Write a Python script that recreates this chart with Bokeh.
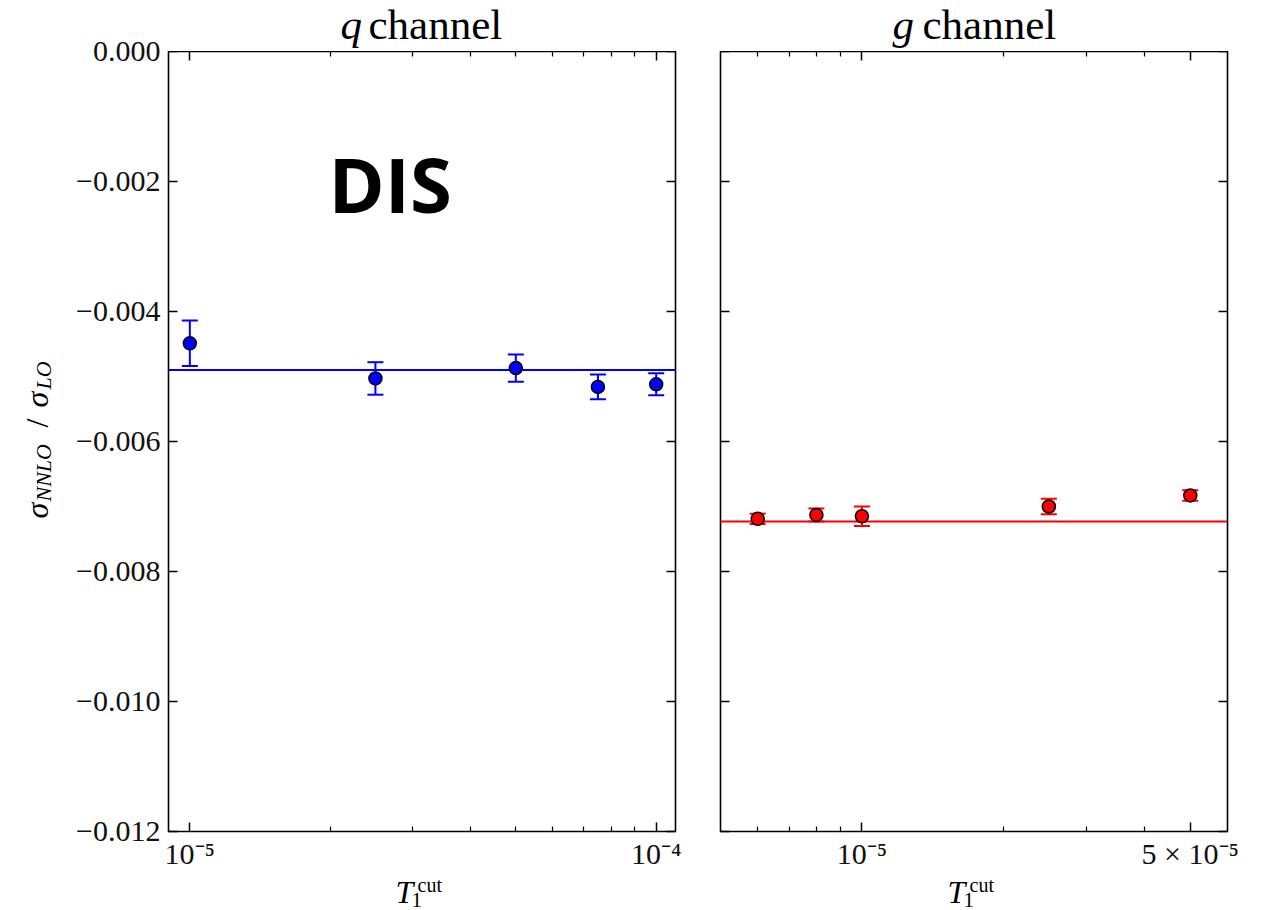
import math

from bokeh.embed import file_html
from bokeh.layouts import column, row
from bokeh.models import (ColumnDataSource, CustomJSTickFormatter, FixedTicker, Label,
                          LinearAxis, LogAxis, Range1d, Span, TeeHead, Whisker)
from bokeh.plotting import figure
from bokeh.resources import INLINE

# ---- quark channel: NNLO/LO ratio vs. tau_1 cut ----
q_tau = [1e-5, 2.5e-5, 5e-5, 7.5e-5, 1e-4]
q_ratio = [-0.00449, -0.00503, -0.00487, -0.00516, -0.00512]
q_err = [0.00035, 0.00025, 0.00021, 0.00019, 0.00017]
q_fit = -0.00490

# ---- gluon channel ----
g_tau = [6e-6, 8e-6, 1e-5, 2.5e-5, 5e-5]
g_ratio = [-0.00719, -0.00713, -0.00715, -0.00700, -0.00683]
g_err = [0.00008, 0.00010, 0.00015, 0.00012, 0.00008]
g_fit = -0.00723

# ---- axes ----
y_lim = [-0.012, 0.0]
y_ticks = [0.0, -0.002, -0.004, -0.006, -0.008, -0.010, -0.012]
y_tick_labels = ["0.000", "\u22120.002", "\u22120.004", "\u22120.006",
                 "\u22120.008", "\u22120.010", "\u22120.012"]
q_xlim = [9e-6, 1.1e-4]
q_xticks = [1e-5, 1e-4]
q_xtick_labels = ["10\u207b\u2075", "10\u207b\u2074"]
q_xminor = [2e-5, 3e-5, 4e-5, 5e-5, 6e-5, 7e-5, 8e-5, 9e-5]
g_xlim = [5e-6, 6e-5]
g_xticks = [1e-5, 5e-5]
g_xtick_labels = ["10\u207b\u2075", "5 \u00d7 10\u207b\u2075"]
g_xminor = [6e-6, 7e-6, 8e-6, 9e-6, 2e-5, 3e-5, 4e-5]

SERIF = "Liberation Serif"
MID = 0.338          # baseline -> middle of the text box, in em (Liberation Serif)
FRAME_W, FRAME_H = 507, 780
TOP, BOTTOM = 51, 79  # space above / below the data frames
TICKLAB_H = 39        # band under each frame that holds the x tick labels
YLAB_W, YTICK_W = 60, 103
P1_L, P1_R, P2_L, P2_R = 5, 20, 25, 45


def list_formatter(vals, texts):
    return CustomJSTickFormatter(args=dict(tick_vals=vals, tick_text=texts), code="""
        for (let i = 0; i < tick_vals.length; i++) {
            if (Math.abs(tick - tick_vals[i]) <= 1e-9 * Math.abs(tick_vals[i])) return tick_text[i];
        }
        return "";
    """)


def style_axis(ax, show_labels, minor, ticks=True):
    ax.axis_line_color = None
    ax.major_tick_in = 9 if ticks else 0
    ax.major_tick_out = 0
    ax.major_tick_line_color = "black" if ticks else None
    ax.major_tick_line_width = 1.5
    if minor:
        ax.minor_tick_in = 5
        ax.minor_tick_out = 0
        ax.minor_tick_line_color = "black"
        ax.minor_tick_line_width = 1.2
    else:
        ax.minor_tick_line_color = None
    ax.major_label_text_font = SERIF
    ax.major_label_text_color = "#111111"
    if show_labels:
        ax.major_label_text_font_size = "30px"
        ax.major_label_standoff = 5
    else:
        ax.formatter = CustomJSTickFormatter(code="return '';")
        ax.major_label_text_font_size = "0px"
        ax.major_label_standoff = 0


def put_text(p, x, y_base, text, size, style="normal", angle=0.0, font=SERIF, mid=MID):
    """Place text so that its baseline sits at (x, y_base), in screen px from the
    frame's bottom-left corner (for rotated text, x is the baseline position)."""
    if angle:
        x_anchor, y_anchor = x - mid * size, y_base
    else:
        x_anchor, y_anchor = x, y_base + mid * size
    p.add_layout(Label(x=x_anchor, y=y_anchor, x_units="screen", y_units="screen",
                       text=text, text_font=font, text_font_size=f"{size}px",
                       text_font_style=style, text_color="black", text_align="left",
                       text_baseline="middle", angle=angle))


def bare(p):
    p.outline_line_color = None
    p.xgrid.visible = False
    p.ygrid.visible = False
    p.background_fill_color = "white"
    p.border_fill_color = "white"
    return p


def text_strip(frame_w, frame_h, left=0, right=0, top=0, bottom=0):
    s = figure(frame_width=frame_w, frame_height=frame_h,
               x_range=Range1d(0, frame_w), y_range=Range1d(0, frame_h),
               output_backend="svg", toolbar_location=None,
               min_border_left=left, min_border_right=right,
               min_border_top=top, min_border_bottom=bottom,
               x_axis_location=None, y_axis_location=None)
    return bare(s)


def make_panel(tau, ratio, err, fit, color, xlim, xticks, xlabels, xminor,
               border_left, border_right):
    p = figure(frame_width=FRAME_W, frame_height=FRAME_H, x_axis_type="log",
               x_range=Range1d(*xlim), y_range=Range1d(*y_lim),
               output_backend="svg", toolbar_location=None,
               min_border_left=border_left, min_border_right=border_right,
               min_border_top=0, min_border_bottom=TICKLAB_H)
    p.background_fill_color = "white"
    p.border_fill_color = "white"
    p.outline_line_color = "black"
    p.outline_line_width = 1.6
    p.xgrid.grid_line_color = None
    p.ygrid.grid_line_color = None

    xticker = FixedTicker(ticks=xticks, minor_ticks=xminor)
    yticker = FixedTicker(ticks=y_ticks)

    xb = p.xaxis[0]
    xb.ticker = xticker
    xb.formatter = list_formatter(xticks, xlabels)
    style_axis(xb, True, True)

    yl = p.yaxis[0]
    yl.ticker = yticker
    style_axis(yl, False, False)

    xt = LogAxis(ticker=xticker)
    style_axis(xt, False, True)
    p.add_layout(xt, "above")
    yr = LinearAxis(ticker=yticker)
    style_axis(yr, False, False)
    p.add_layout(yr, "right")

    lower = [r - e for r, e in zip(ratio, err)]
    upper = [r + e for r, e in zip(ratio, err)]
    src = ColumnDataSource(data=dict(tau=tau, ratio=ratio, lower=lower, upper=upper))

    p.add_layout(Span(location=fit, dimension="width", line_color=color,
                      line_width=2, level="underlay"))
    whisk = Whisker(base="tau", lower="lower", upper="upper", source=src,
                    dimension="height", line_color=color, line_width=2,
                    level="underlay",
                    upper_head=TeeHead(size=16, line_color=color, line_width=2),
                    lower_head=TeeHead(size=16, line_color=color, line_width=2))
    p.add_layout(whisk)
    p.scatter("tau", "ratio", source=src, size=13, marker="circle",
              fill_color=color, line_color="black", line_width=1.5)
    return p


p1 = make_panel(q_tau, q_ratio, q_err, q_fit, "#0000ff", q_xlim, q_xticks,
                q_xtick_labels, q_xminor, P1_L, P1_R)
p2 = make_panel(g_tau, g_ratio, g_err, g_fit, "#ff0000", g_xlim, g_xticks,
                g_xtick_labels, g_xminor, P2_L, P2_R)

# process tag inside the quark panel
put_text(p1, 160, 619, "DIS", 76, "bold", font="Open Sans", mid=0.388)

# shared y tick labels, to the left of the quark panel
ytick = figure(frame_width=1, frame_height=FRAME_H, x_range=Range1d(0, 1),
               y_range=Range1d(*y_lim), output_backend="svg", toolbar_location=None,
               min_border_left=YTICK_W - 1, min_border_right=0,
               min_border_top=TOP, min_border_bottom=BOTTOM, x_axis_location=None)
bare(ytick)
ya = ytick.yaxis[0]
ya.ticker = FixedTicker(ticks=y_ticks)
ya.formatter = list_formatter(y_ticks, y_tick_labels)
style_axis(ya, True, False, ticks=False)
ya.major_label_standoff = 2

# y-axis title: sigma_NNLO / sigma_LO, reading upwards
ylab = text_strip(YLAB_W, FRAME_H, top=TOP, bottom=BOTTOM)
up = math.pi / 2
put_text(ylab, 47, 313, "\u03c3", 32, "italic", up)
put_text(ylab, 50, 330, "NNLO", 22, "italic", up)
put_text(ylab, 47, 404, "/", 32, "normal", up)
put_text(ylab, 47, 424, "\u03c3", 32, "italic", up)
put_text(ylab, 50, 442, "LO", 22, "italic", up)

# panel titles
XLAB_H = BOTTOM - TICKLAB_H
t1 = text_strip(FRAME_W, TOP, left=P1_L, right=P1_R)
put_text(t1, 172, 12, "q", 43, "italic")
put_text(t1, 200, 12, "channel", 43)
t2 = text_strip(FRAME_W, TOP, left=P2_L, right=P2_R)
put_text(t2, 172, 12, "g", 43, "italic")
put_text(t2, 202, 12, "channel", 43)

# x-axis titles: T_1^cut
x1 = text_strip(FRAME_W, XLAB_H, left=P1_L, right=P1_R)
x2 = text_strip(FRAME_W, XLAB_H, left=P2_L, right=P2_R)
for strip in (x1, x2):
    put_text(strip, 227, 10, "T", 32, "italic")
    put_text(strip, 243, 5, "1", 21)
    put_text(strip, 249, 21, "cut", 20)

layout = row(ylab, ytick,
             column(t1, p1, x1, spacing=0),
             column(t2, p2, x2, spacing=0),
             spacing=0)
open("out.html", "w").write(file_html(layout, INLINE))
